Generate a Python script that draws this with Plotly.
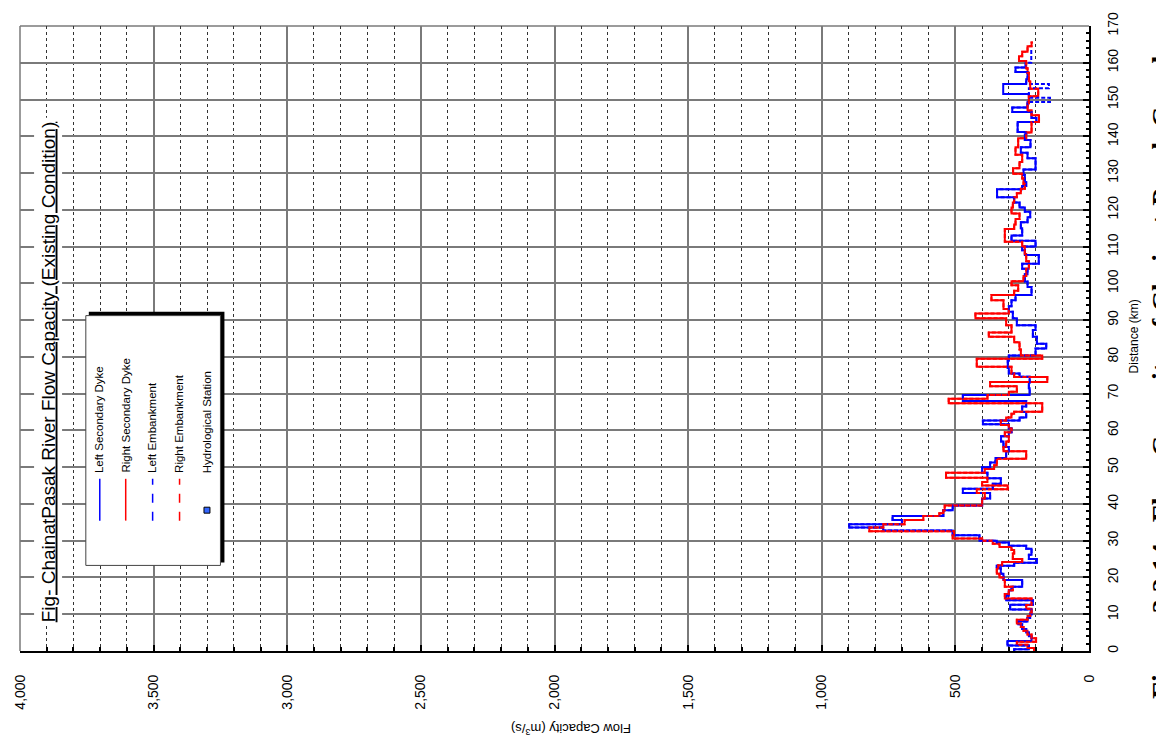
import plotly.graph_objects as go

# ---------------- data ----------------
x_ticks = [0, 500, 1000, 1500, 2000, 2500, 3000, 3500, 4000]
x_labels = ["0", "500", "1,000", "1,500", "2,000", "2,500", "3,000", "3,500", "4,000"]

left_dyke_km = [0, 0.5, 1.5, 2.7, 4, 5, 6, 7.3, 8, 9,
                10, 11.3, 12.6, 13.8, 15, 16.5, 17.5, 19.3, 21, 22.5,
                23.2, 24, 25, 26.2, 27.8, 28.6, 29.5, 30, 31.5, 32.8,
                33.6, 34.5, 35.6, 36.7, 38.3, 39.6, 41.5, 43, 44.1, 45.5,
                47, 48.5, 50, 51.3, 52.5, 54.3, 55.5, 57, 58.4, 59.5,
                60.5, 61.7, 62.7, 63.5, 65, 66.5, 68, 69.6, 71.5, 73,
                74.6, 75.5, 77, 79, 80.4, 82.3, 83.6, 85.5, 87.3, 88.6,
                90.5, 92.3, 93.8, 95.4, 96.8, 99, 100.5, 102.5, 104, 105.3,
                107.7, 109, 110, 111.6, 113, 115, 116.6, 118, 119.5, 120.6,
                122, 123.4, 125.6, 126.5, 127.5, 129.5, 131, 134, 135.5, 137,
                139, 140.5, 141.2, 143.9, 145, 146.6, 147.8, 149.3, 151.5, 154.2,
                155.5, 157.5, 158.7, 160]
left_dyke_q = [280, 225, 305, 215, 225, 235, 250, 265, 230, 220,
               215, 295, 210, 310, 300, 290, 250, 320, 330, 345,
               280, 195, 225, 215, 235, 300, 345, 410, 510, 770,
               897, 700, 735, 545, 510, 400, 370, 472, 360, 330,
               380, 400, 370, 350, 310, 300, 320, 329, 300, 290,
               300, 397, 260, 235, 250, 235, 472, 222, 225, 222,
               260, 300, 304, 300, 200, 160, 195, 210, 200, 270,
               285, 300, 290, 275, 215, 230, 240, 230, 250, 188,
               240, 250, 200, 290, 250, 255, 230, 220, 240, 260,
               280, 344, 250, 235, 240, 245, 200, 230, 255, 219,
               240, 235, 267, 197, 215, 287, 230, 225, 321, 235,
               230, 275, 237, 237]

left_emb_km = [0, 0.5, 1.5, 2.7, 4, 5, 6, 7.3, 8, 9,
               10, 11.3, 12.6, 13.8, 15, 16.5, 17.5, 19.3, 21, 22.5,
               23.2, 24, 25, 26.2, 27.8, 28.6, 29.5, 30, 31.5, 32.8,
               33.6, 34.5, 35.6, 36.7, 38.3, 39.6, 41.5, 43, 44.1, 45.5,
               47, 48.5, 50, 51.3, 52.5, 54.3, 55.5, 57, 58.4, 59.5,
               60.5, 61.7, 62.7, 63.5, 65, 66.5, 68, 69.6, 71.5, 73,
               74.6, 75.5, 77, 79, 80.4, 82.3, 83.6, 85.5, 87.3, 88.6,
               90.5, 92.3, 93.8, 95.4, 96.8, 99, 100.5, 102.5, 104, 105.3,
               107.7, 109, 110, 111.6, 113, 115, 116.6, 118, 119.5, 120.6,
               122, 123.4, 125.6, 126.5, 127.5, 129.5, 131, 134, 135.5, 137,
               139, 140.5, 141.2, 143.9, 145, 146.6, 147.8, 149.3, 150.5, 153.1,
               154.2, 155.5, 157.5, 158.7, 160, 163.6]
left_emb_q = [280, 225, 305, 215, 225, 235, 250, 265, 230, 220,
              215, 295, 210, 310, 300, 290, 250, 320, 330, 345,
              280, 195, 225, 215, 235, 300, 345, 410, 510, 770,
              897, 700, 735, 545, 510, 400, 370, 472, 360, 330,
              380, 400, 370, 350, 310, 300, 320, 329, 300, 290,
              300, 397, 260, 235, 250, 235, 472, 222, 225, 222,
              260, 300, 304, 300, 200, 160, 195, 210, 200, 270,
              285, 300, 290, 275, 215, 230, 240, 230, 250, 188,
              240, 250, 200, 290, 250, 255, 230, 220, 240, 260,
              280, 344, 250, 235, 240, 245, 200, 230, 255, 219,
              240, 235, 267, 197, 215, 287, 230, 146, 225, 150,
              235, 230, 275, 237, 216, 216]

right_dyke_km = [0, 0.8, 1.7, 2.5, 3.5, 4.5, 5.5, 6.5, 7.5, 8.5,
                 9.5, 10.5, 11.5, 12.5, 14.3, 15.5, 16.5, 17.5, 19.3, 20,
                 21, 22.5, 23.3, 24.2, 25, 26.5, 27.5, 28.3, 29.2, 30,
                 30.6, 31.5, 32.6, 33.6, 34.5, 35.6, 36.7, 37.5, 38.3, 39.6,
                 41.5, 43, 44, 45, 46, 47.1, 48.5, 49.5, 50.5, 52.3,
                 54.3, 55.5, 57, 58.4, 59.5, 60.5, 61.5, 62.7, 63.5, 64.5,
                 65.1, 67.4, 68.6, 69.6, 70.5, 72, 73.2, 74.5, 75.5, 77.3,
                 79.5, 80.4, 82, 84, 85.5, 86.6, 88.6, 90.5, 91.8, 93,
                 95.4, 96.8, 98, 99.5, 100.6, 102, 104, 106, 108, 110,
                 111.3, 114.8, 116, 117.5, 119, 120.6, 122, 123.4, 124.5, 125.7,
                 127, 128.5, 129.8, 131.3, 133, 135, 137, 139.5, 141, 143.9,
                 145.7, 147, 149, 150.9, 152.9, 155, 157.3, 158.5, 160.5, 161.8,
                 163, 164.5, 165.5]
right_dyke_q = [205, 230, 270, 198, 215, 230, 245, 255, 270, 230,
                220, 215, 235, 215, 315, 300, 285, 315, 320, 335,
                345, 340, 325, 250, 285, 280, 290, 335, 360, 400,
                510, 505, 822, 770, 690, 620, 560, 545, 540, 400,
                390, 420, 304, 400, 380, 535, 390, 355, 345, 235,
                320, 310, 300, 315, 290, 300, 330, 310, 290, 280,
                175, 525, 380, 300, 270, 370, 156, 280, 290, 420,
                175, 255, 260, 280, 375, 290, 310, 425, 300, 320,
                365, 280, 265, 290, 245, 235, 225, 235, 240, 250,
                315, 280, 275, 260, 290, 285, 280, 270, 255, 240,
                245, 250, 284, 260, 250, 275, 265, 235, 215, 187,
                215, 230, 225, 190, 220, 225, 230, 235, 262, 250,
                230, 215, 210]

right_emb_km = [0, 0.8, 1.7, 2.5, 3.5, 4.5, 5.5, 6.5, 7.5, 8.5,
                9.5, 10.5, 11.5, 12.5, 14.3, 15.5, 16.5, 17.5, 19.3, 20,
                21, 22.5, 23.3, 24.2, 25, 26.5, 27.5, 28.3, 29.2, 30,
                30.6, 31.5, 32.6, 33.6, 34.5, 35.6, 36.7, 37.5, 38.3, 39.6,
                41.5, 43, 44, 45, 46, 47.1, 48.5, 49.5, 50.5, 52.3,
                54.3, 55.5, 57, 58.4, 59.5, 60.5, 61.5, 62.7, 63.5, 64.5,
                65.1, 67.4, 68.6, 69.6, 70.5, 72, 73.2, 74.5, 75.5, 77.3,
                79.5, 80.4, 82, 84, 85.5, 86.6, 88.6, 90.5, 91.8, 93,
                95.4, 96.8, 98, 99.5, 100.6, 102, 104, 106, 108, 110,
                111.3, 114.8, 116, 117.5, 119, 120.6, 122, 123.4, 124.5, 125.7,
                127, 128.5, 129.8, 131.3, 133, 135, 137, 139.5, 141, 143.9,
                145.7, 147, 149, 150.9, 152.9, 155, 157.3, 158.5, 160.5, 161.8,
                163, 164.5, 165.5]
right_emb_q = [205, 230, 270, 198, 215, 230, 245, 255, 270, 230,
               220, 215, 235, 215, 315, 300, 285, 315, 320, 335,
               345, 340, 325, 250, 285, 280, 290, 335, 360, 400,
               510, 505, 822, 770, 690, 620, 560, 545, 540, 400,
               390, 420, 304, 400, 380, 535, 390, 355, 345, 235,
               320, 310, 300, 315, 290, 300, 330, 310, 290, 280,
               175, 525, 380, 300, 270, 370, 156, 280, 290, 420,
               175, 255, 260, 280, 375, 290, 310, 425, 300, 320,
               365, 280, 265, 290, 245, 235, 225, 235, 240, 250,
               315, 280, 275, 260, 290, 285, 280, 270, 255, 240,
               245, 250, 284, 260, 250, 275, 265, 235, 215, 187,
               215, 230, 225, 190, 220, 225, 230, 235, 262, 250,
               230, 215, 210]

legend_names = ["Left Secondary Dyke", "Right Secondary Dyke", "Left Embankment",
                "Right Embankment", "Hydrological Station"]

chart_title = "Fig- ChainatPasak River Flow Capacity (Existing Condition)"
x_title = "Flow Capacity (m<sup>3</sup>/s)"
y_title = "Distance (km)"
caption = "Figure 3.2.14   Flow Capacity of Chainat-Pasak Canal"

# ---------------- layout geometry (pixels) ----------------
W, H = 1156, 743
L, R, T, B = 17, 1089, 23, 651


def px(x):
    return (x - L) / (R - L)


def py(y):
    return (B - y) / (B - T)


FONT = "Arial, Liberation Sans, sans-serif"
BLUE = "#0000ff"
RED = "#ff0000"

fig = go.Figure()

series = [
    ("Left Secondary Dyke", left_dyke_km, left_dyke_q, BLUE, "solid"),
    ("Right Secondary Dyke", right_dyke_km, right_dyke_q, RED, "solid"),
    ("Left Embankment", left_emb_km, left_emb_q, BLUE, "4px,2px"),
    ("Right Embankment", right_emb_km, right_emb_q, RED, "4px,2px"),
]
for name, km, q, col, dash in series:
    assert len(km) == len(q), name
    fig.add_trace(go.Scatter(
        x=q, y=km, mode="lines", name=name, showlegend=False,
        line=dict(color=col, width=2, dash=dash, shape="vh"),
    ))

fig.update_layout(
    width=W, height=H,
    margin=dict(l=L, r=W - R, t=T, b=H - B, pad=0),
    paper_bgcolor="white", plot_bgcolor="white",
    showlegend=False,
    font=dict(family=FONT, color="black"),
)

fig.update_xaxes(
    range=[4000, 0], tickmode="array", tickvals=x_ticks, ticktext=x_labels,
    tickangle=-90, ticks="inside", ticklen=6, tickwidth=2, tickcolor="black",
    ticklabelstandoff=16,
    showline=True, linecolor="black", linewidth=2,
    showgrid=True, gridcolor="#7a7a7a", gridwidth=1.5, zeroline=False,
    tickfont=dict(size=14, family=FONT, color="black"),
    minor=dict(dtick=100, tick0=0, showgrid=True, griddash="dot", gridcolor="#333333",
               gridwidth=1, ticks="inside", ticklen=4, tickwidth=2, tickcolor="black"),
)
fig.update_yaxes(
    range=[0, 170], dtick=10, tick0=0, side="right",
    tickangle=-90, ticks="inside", ticklen=6, tickwidth=2, tickcolor="black",
    ticklabelstandoff=10,
    showline=True, linecolor="black", linewidth=2,
    showgrid=True, gridcolor="#7a7a7a", gridwidth=1.5, zeroline=False,
    tickfont=dict(size=14, family=FONT, color="black"),
    minor=dict(dtick=2, tick0=0, ticks="inside", ticklen=3, tickwidth=1.5,
               tickcolor="black", showgrid=False),
)

shapes = []
annotations = []

# plot frame on the top and left sides (grey, like the grid)
shapes.append(dict(type="line", xref="paper", yref="paper", x0=0, x1=1, y0=1, y1=1,
                   line=dict(color="#7a7a7a", width=1.5), layer="below"))
shapes.append(dict(type="line", xref="paper", yref="paper", x0=0, x1=0, y0=0, y1=1,
                   line=dict(color="#7a7a7a", width=1.5), layer="below"))

# legend box (drawn manually, rotated like the chart)
shapes.append(dict(type="rect", xref="paper", yref="paper",
                   x0=px(86), x1=px(222), y0=py(562), y1=py(310),
                   fillcolor="black", line=dict(width=0), layer="above"))
shapes.append(dict(type="rect", xref="paper", yref="paper",
                   x0=px(83), x1=px(218), y0=py(565), y1=py(314),
                   fillcolor="white", line=dict(color="#444444", width=1), layer="above"))
key_x = [97, 123, 150, 177]
key_col = [BLUE, RED, BLUE, RED]
key_dash = ["solid", "solid", "dash", "dash"]
for kx, kc, kd in zip(key_x, key_col, key_dash):
    shapes.append(dict(type="line", xref="paper", yref="paper",
                       x0=px(kx), x1=px(kx), y0=py(520), y1=py(478),
                       line=dict(color=kc, width=1.5, dash=kd), layer="above"))
shapes.append(dict(type="rect", xref="paper", yref="paper",
                   x0=px(201.5), x1=px(207.5), y0=py(512.5), y1=py(506.5),
                   fillcolor="#3366ff", line=dict(color="black", width=1), layer="above"))
for kx, name in zip(key_x + [204], legend_names):
    annotations.append(dict(text=name, xref="paper", yref="paper",
                            x=px(kx), y=py(474), xanchor="center", yanchor="bottom",
                            textangle=-90, showarrow=False,
                            font=dict(size=11.5, family=FONT, color="black")))

# chart title (rotated, underlined)
annotations.append(dict(text="<u>" + chart_title + "</u>", xref="paper", yref="paper",
                        x=px(45), y=py(370), xanchor="center", yanchor="middle",
                        textangle=-90, showarrow=False, bgcolor="white", borderpad=3,
                        font=dict(size=19, family=FONT, color="black")))

# axis titles
annotations.append(dict(text=y_title, xref="paper", yref="paper",
                        x=px(1134), y=py(335), xanchor="center", yanchor="middle",
                        textangle=-90, showarrow=False,
                        font=dict(size=12, family=FONT, color="black")))
annotations.append(dict(text=x_title, xref="paper", yref="paper",
                        x=px(569), y=py(730), xanchor="center", yanchor="middle",
                        textangle=180, showarrow=False,
                        font=dict(size=13, family=FONT, color="black")))

# figure caption (cut by the page edge)
annotations.append(dict(text="<b>" + caption + "</b>", xref="paper", yref="paper",
                        x=px(1162), y=py(376), xanchor="center", yanchor="middle",
                        textangle=-90, showarrow=False,
                        font=dict(size=28, family="Times New Roman, Liberation Serif, serif",
                                  color="black")))

fig.update_layout(shapes=shapes, annotations=annotations)

fig.write_html("out.html")
